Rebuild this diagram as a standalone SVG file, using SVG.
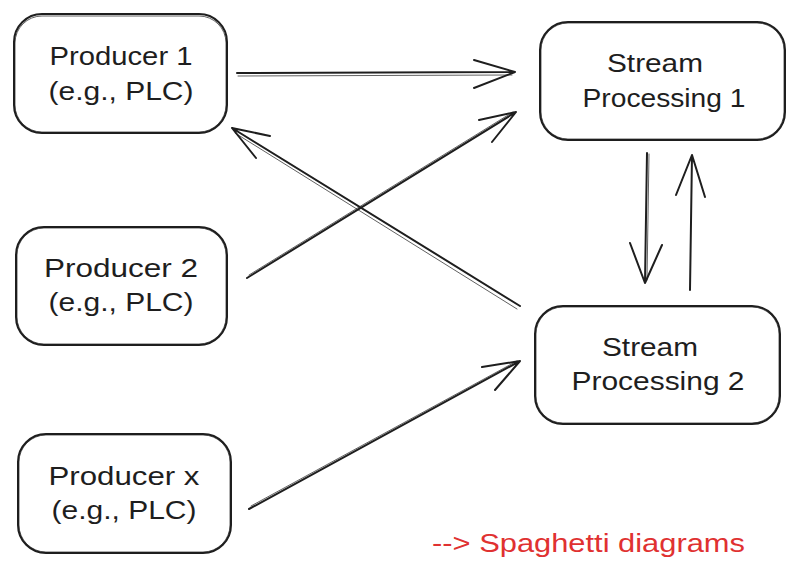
<svg xmlns="http://www.w3.org/2000/svg" width="800" height="576" viewBox="0 0 800 576">
<style>
.box{fill:#ffffff;stroke:#1e1e1e;stroke-width:2;}
.box2{fill:none;stroke:#1e1e1e;stroke-width:1;opacity:0.7;}
.edge{fill:none;stroke:#1e1e1e;stroke-width:2;stroke-linecap:round;stroke-linejoin:round;}
.edge2{fill:none;stroke:#1e1e1e;stroke-width:1;opacity:0.7;stroke-linecap:round;}
.lbl{font-family:"Liberation Sans","DejaVu Sans",sans-serif;font-size:26px;fill:#1e1e1e;text-anchor:middle;}
.note{font-family:"Liberation Sans","DejaVu Sans",sans-serif;font-size:26px;fill:#e03131;}
</style>
<rect width="800" height="576" fill="#ffffff"/>
<g id="connectors">
  <g id="p1-sp1">
    <path class="edge" d="M237,73 L515,72 M474,60 L515,72 L474,88"/>
    <path class="edge2" d="M238,76 L512,75"/>
  </g>
  <g id="p2-sp1">
    <path class="edge" d="M247,278 L516,112 M479,120 L516,112 L492,142"/>
    <path class="edge2" d="M249,275 L513,112"/>
  </g>
  <g id="sp2-p1">
    <path class="edge" d="M520,306 L232,128 M256,158 L232,128 L270,136"/>
    <path class="edge2" d="M517,309 L235,133"/>
  </g>
  <g id="px-sp2">
    <path class="edge" d="M249,509 L520,361 M482,367 L520,361 L495,390"/>
    <path class="edge2" d="M251,506 L517,361"/>
  </g>
  <g id="sp1-sp2">
    <path class="edge" d="M647,153 L645,283 M630,243 L645,283 L662,245"/>
    <path class="edge2" d="M649,154 L647,280"/>
  </g>
  <g id="sp2-sp1">
    <path class="edge" d="M690,290 L692,155 M676,195 L692,155 L705,197"/>
  </g>
</g>
<g id="producer1">
  <rect class="box" x="14" y="14" width="213" height="119" rx="28"/>
  <rect class="box2" x="15" y="16" width="211" height="116" rx="27"/>
  <text class="lbl" x="121" y="65" textLength="143" lengthAdjust="spacingAndGlyphs">Producer 1</text>
  <text class="lbl" x="121" y="100" textLength="145" lengthAdjust="spacingAndGlyphs">(e.g., PLC)</text>
</g>
<g id="producer2">
  <rect class="box" x="16" y="227" width="211" height="118" rx="28"/>
  <rect class="box2" x="17" y="228" width="209" height="116" rx="27"/>
  <text class="lbl" x="121" y="277" textLength="154" lengthAdjust="spacingAndGlyphs">Producer 2</text>
  <text class="lbl" x="121" y="311" textLength="145" lengthAdjust="spacingAndGlyphs">(e.g., PLC)</text>
</g>
<g id="producerx">
  <rect class="box" x="18" y="434" width="213" height="119" rx="28"/>
  <rect class="box2" x="19" y="435" width="211" height="117" rx="27"/>
  <text class="lbl" x="124" y="485" textLength="151" lengthAdjust="spacingAndGlyphs">Producer x</text>
  <text class="lbl" x="124" y="519" textLength="145" lengthAdjust="spacingAndGlyphs">(e.g., PLC)</text>
</g>
<g id="stream1">
  <rect class="box" x="540" y="22" width="245" height="118" rx="28"/>
  <rect class="box2" x="541" y="23" width="243" height="116" rx="27"/>
  <text class="lbl" x="655" y="72" textLength="96" lengthAdjust="spacingAndGlyphs">Stream</text>
  <text class="lbl" x="664" y="107" textLength="163" lengthAdjust="spacingAndGlyphs">Processing 1</text>
</g>
<g id="stream2">
  <rect class="box" x="535" y="306" width="245" height="118" rx="28"/>
  <rect class="box2" x="536" y="307" width="243" height="116" rx="27"/>
  <text class="lbl" x="650" y="356" textLength="96" lengthAdjust="spacingAndGlyphs">Stream</text>
  <text class="lbl" x="658" y="390" textLength="173" lengthAdjust="spacingAndGlyphs">Processing 2</text>
</g>
<g id="note">
  <text class="note" x="432" y="552" textLength="313" lengthAdjust="spacingAndGlyphs">--&gt; Spaghetti diagrams</text>
</g>
</svg>
